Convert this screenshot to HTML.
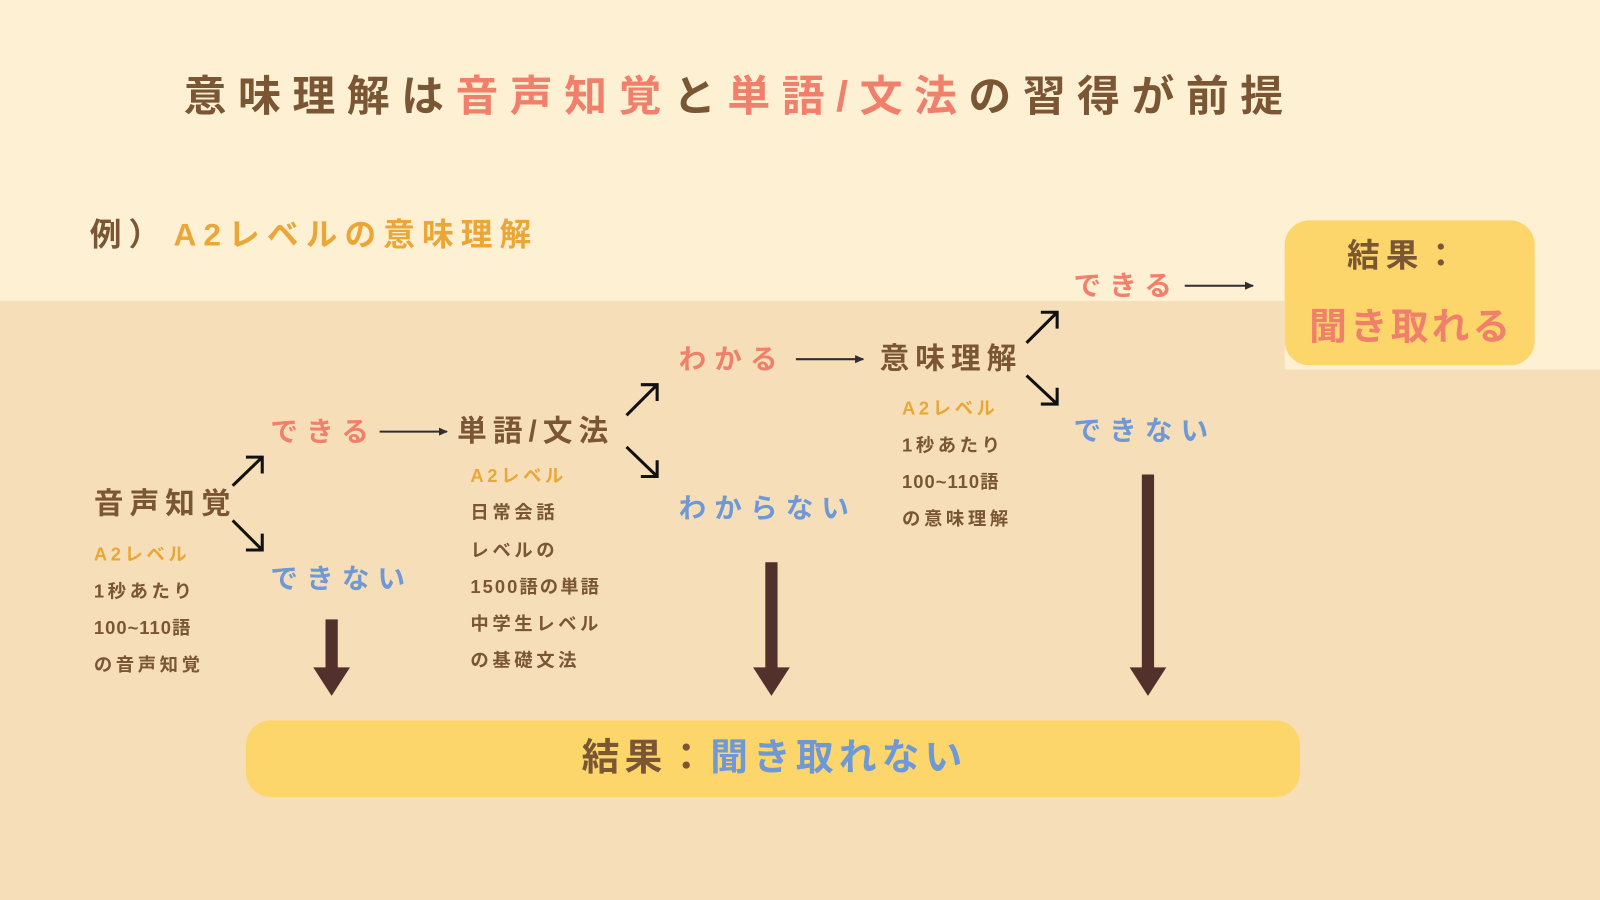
<!DOCTYPE html>
<html><head><meta charset="utf-8"><style>
html,body{margin:0;padding:0;background:#f6dfb8;}
svg{display:block}
text{font-family:"Liberation Sans","Noto Sans CJK JP",sans-serif;font-weight:bold;dominant-baseline:central}
</style></head><body>
<svg width="1600" height="900" viewBox="0 0 1568 882" preserveAspectRatio="none" xmlns="http://www.w3.org/2000/svg">
<defs><marker id="ah" markerWidth="10" markerHeight="10" refX="8" refY="5" orient="auto" markerUnits="userSpaceOnUse"><path d="M0,1 L9,5 L0,9 Z" fill="#2f2f33"/></marker></defs>
<rect width="1568" height="882" fill="#f6dfb8"/>
<rect width="1568" height="295" fill="#fef0d2"/>
<rect x="1230" y="0" width="338" height="284" fill="#fef0d2"/>
<rect x="1259" y="0" width="309" height="362" fill="#fef0d2"/>
<text x="180" y="95" font-size="42" letter-spacing="11.3" fill="#7a5634">意味理解は<tspan fill="#f07f6b">音声知覚</tspan>と<tspan fill="#f07f6b">単語/文法</tspan>の習得が前提</text>
<text x="88" y="230" font-size="31" letter-spacing="7" fill="#7a5634">例）<tspan fill="#eaa636" dx="6">A2レベルの意味理解</tspan></text>
<rect x="1259" y="216" width="245" height="142" rx="24" fill="#fdd66b"/>
<text x="1320" y="250" font-size="32" letter-spacing="6" fill="#7a5634">結果：</text>
<text x="1283" y="320" font-size="37" letter-spacing="3" fill="#f07f6b">聞き取れる</text>
<rect x="241" y="706" width="1033" height="75" rx="24" fill="#fdd66b"/>
<text x="570" y="742" font-size="37" letter-spacing="5" fill="#7a5634">結果：<tspan fill="#6f98d6">聞き取れない</tspan></text>
<g font-size="27" letter-spacing="8">
<text x="265" y="423" fill="#f07f6b">できる</text>
<text x="265" y="567" fill="#6f98d6">できない</text>
<text x="665" y="352" fill="#f07f6b">わかる</text>
<text x="665" y="498" fill="#6f98d6">わからない</text>
<text x="1052" y="280" fill="#f07f6b">できる</text>
<text x="1052" y="422" fill="#6f98d6">できない</text>
</g>
<g font-size="29" letter-spacing="6" fill="#7a5634">
<text x="92" y="494">音声知覚</text>
<text x="448" y="423">単語/文法</text>
<text x="862" y="352">意味理解</text>
</g>
<g font-size="18" letter-spacing="3.5" fill="#7a5634">
<text x="92" y="543" fill="#eaa636">A2レベル</text>
<text x="92" y="579">1秒あたり</text>
<text x="92" y="615" letter-spacing="1">100~110語</text>
<text x="92" y="651">の音声知覚</text>
<text x="461" y="466" fill="#eaa636">A2レベル</text>
<text x="461" y="502">日常会話</text>
<text x="461" y="539">レベルの</text>
<text x="461" y="575" letter-spacing="2">1500語の単語</text>
<text x="461" y="611">中学生レベル</text>
<text x="461" y="647">の基礎文法</text>
<text x="884" y="400" fill="#eaa636">A2レベル</text>
<text x="884" y="436">1秒あたり</text>
<text x="884" y="472" letter-spacing="1">100~110語</text>
<text x="884" y="508">の意味理解</text>
</g>
<g stroke="#2f2f33" stroke-width="2" marker-end="url(#ah)">
<line x1="372" y1="423" x2="438" y2="423"/>
<line x1="780" y1="352" x2="846" y2="352"/>
<line x1="1161" y1="280" x2="1228" y2="280"/>
</g>
<g stroke="#111" stroke-width="3" fill="none">
<path d="M228,476 L257,448 M241,448 L257,448 L257,464"/>
<path d="M228,510 L257,539 M257,523 L257,539 L241,539"/>
<path d="M614,407 L644,377 M628,377 L644,377 L644,393"/>
<path d="M614,438 L644,467 M644,451 L644,467 L628,467"/>
<path d="M1006,336 L1036,306 M1020,306 L1036,306 L1036,322"/>
<path d="M1006,368 L1036,396 M1036,380 L1036,396 L1020,396"/>
</g>
<g fill="#52302b">
<rect x="319" y="607" width="12" height="48"/><path d="M307,654 L343,654 L325,682 Z"/>
<rect x="750" y="551" width="12" height="104"/><path d="M738,654 L774,654 L756,682 Z"/>
<rect x="1119" y="465" width="12" height="190"/><path d="M1107,654 L1143,654 L1125,682 Z"/>
</g>
</svg>
</body></html>
